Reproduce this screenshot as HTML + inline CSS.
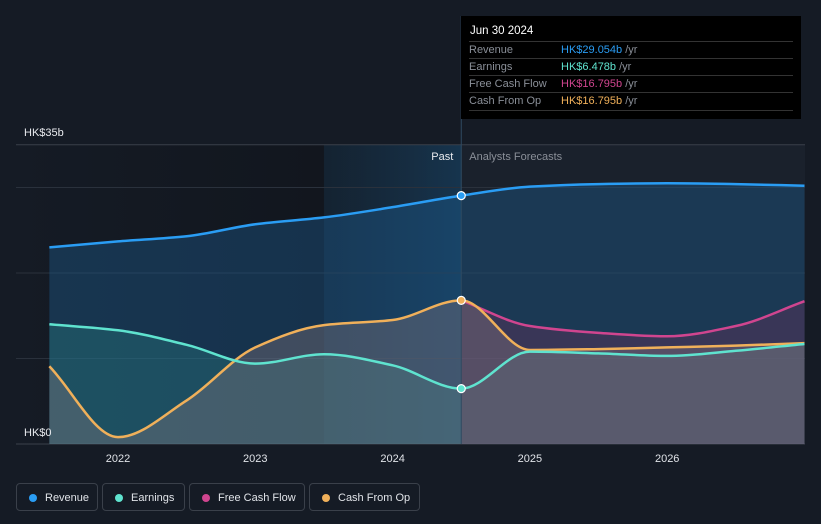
<!DOCTYPE html>
<html><head><meta charset="utf-8"><style>
body{margin:0;background:#151b25;font-family:"Liberation Sans",sans-serif;}
#wrap{position:relative;width:821px;height:524px;overflow:hidden;}
.tip{position:absolute;left:461px;top:16px;width:340px;height:103px;background:#000;color:#fff;font-size:11px;}
.tip .h{position:absolute;left:9px;top:9px;font-size:11.5px;}
.tip .r{position:absolute;left:8px;width:324px;border-top:1px solid #333;height:17px;line-height:17px;color:#8a8f98;}
.tip .r span{position:absolute;left:92px;}
.leg{position:absolute;top:483px;height:28px;border:1px solid #3a404a;border-radius:4px;color:#e0e3e8;font-size:11px;line-height:28px;box-sizing:border-box;}
.leg i{position:absolute;left:12px;top:10px;width:8px;height:8px;border-radius:50%;}
.leg b{font-weight:normal;position:absolute;left:28px;}
</style></head><body>
<div id="wrap">
<svg id="svg" width="821" height="524" style="position:absolute;left:0;top:0"></svg>
<div class="tip">
<div class="h">Jun 30 2024</div>
<div class="r" style="top:25px">Revenue<span style="color:#2a9df4">HK$29.054b <em style="font-style:normal;color:#8a8f98">/yr</em></span></div>
<div class="r" style="top:42px">Earnings<span style="color:#5fe3cf">HK$6.478b <em style="font-style:normal;color:#8a8f98">/yr</em></span></div>
<div class="r" style="top:59px">Free Cash Flow<span style="color:#d0458f">HK$16.795b <em style="font-style:normal;color:#8a8f98">/yr</em></span></div>
<div class="r" style="top:76px;border-bottom:1px solid #333">Cash From Op<span style="color:#f0b05a">HK$16.795b <em style="font-style:normal;color:#8a8f98">/yr</em></span></div>
</div>
<div class="leg" style="left:16px;width:82px"><i style="background:#2a9df4"></i><b>Revenue</b></div>
<div class="leg" style="left:102px;width:83px"><i style="background:#5fe3cf"></i><b>Earnings</b></div>
<div class="leg" style="left:189px;width:116px"><i style="background:#d0458f"></i><b>Free Cash Flow</b></div>
<div class="leg" style="left:309px;width:111px"><i style="background:#f0b05a"></i><b>Cash From Op</b></div>
</div>
<script>
const years=[2021.5,2022,2022.5,2023,2023.5,2024,2024.5,2025,2025.5,2026,2026.5,2027];
const revenue=[23.0,23.7,24.3,25.7,26.5,27.7,29.05,30.1,30.4,30.5,30.4,30.2];
const earnings=[14.0,13.3,11.6,9.4,10.5,9.2,6.48,10.8,10.6,10.3,10.9,11.7];
const cfo=[9.1,0.8,5.1,11.3,13.9,14.5,16.8,11.0,11.1,11.3,11.5,11.8];
const fcfYears=[2024.5,2025,2025.5,2026,2026.5,2027];
const fcf=[16.8,13.8,13.0,12.6,13.8,16.7];
const yTicks=[0,10,20,30,35];
const xTicks=[2022,2023,2024,2025,2026];
const pastEnd=2024.5;
const X=v=>118+(v-2022)*137.3;
const Y=v=>444-v*8.55;
const NS="http://www.w3.org/2000/svg";
const svg=document.getElementById('svg');
function el(t,a,p){const e=document.createElementNS(NS,t);for(const k in a)e.setAttribute(k,a[k]);(p||svg).appendChild(e);return e;}
function path(xs,ys){const p=xs.map((x,i)=>[X(x),Y(ys[i])]);const n=p.length;
const dx=[],s=[];for(let i=0;i<n-1;i++){dx.push(p[i+1][0]-p[i][0]);s.push((p[i+1][1]-p[i][1])/dx[i]);}
const m=[s[0]];for(let i=1;i<n-1;i++){m.push(s[i-1]*s[i]<=0?0:2/(1/s[i-1]+1/s[i]));}m.push(s[n-2]);
let d=`M${p[0][0]},${p[0][1]}`;
for(let i=0;i<n-1;i++){const h=dx[i]/3;d+=`C${p[i][0]+h},${p[i][1]+m[i]*h} ${p[i+1][0]-h},${p[i+1][1]-m[i+1]*h} ${p[i+1][0]},${p[i+1][1]}`;}return d;}
const defs=el('defs',{});
defs.innerHTML='<linearGradient id="pastbg" x1="0" x2="1"><stop offset="0" stop-color="#151b25"/><stop offset="1" stop-color="#10141b"/></linearGradient><linearGradient id="hl" x1="0" x2="1"><stop offset="0" stop-color="#1a3a55" stop-opacity="0.35"/><stop offset="1" stop-color="#1a4a70" stop-opacity="0.6"/></linearGradient>';
let r=el('rect',{x:X(2021.5)-32,y:145,width:X(pastEnd)-X(2021.5)+32,height:299,fill:'url(#pastbg)'});

r=el('rect',{x:X(pastEnd),y:145,width:805-X(pastEnd),height:299,fill:'#1a212c'});

r=el('rect',{x:X(2023.5),y:145,width:X(pastEnd)-X(2023.5),height:299,fill:'url(#hl)'});

yTicks.forEach(t=>{const l=el('line',{x1:16,x2:805,y1:Y(t),y2:Y(t),stroke:t==35||t==0?'#3a404a':'#2a313c','stroke-width':1});
});
function area(xs,ys,fill,op,name){const d=path(xs,ys)+`L${X(xs[xs.length-1])},444L${X(xs[0])},444Z`;const a=el('path',{d,fill,'fill-opacity':op});
}
area(years,revenue,'#1c5a8c',0.42,'revenue-area');
area(years,earnings,'#2a8a88',0.32,'earnings-area');
area(fcfYears,fcf,'#8a3060',0.28,'fcf-area');
area(years,cfo,'#8a7a80',0.36,'cfo-area');
function line(xs,ys,c,name){const l=el('path',{d:path(xs,ys),fill:'none',stroke:c,'stroke-width':2.5});
}
line(fcfYears,fcf,'#d0458f','fcf-line');
line(years,cfo,'#f0b05a','cfo-line');
line(years,earnings,'#5fe3cf','earnings-line');
line(years,revenue,'#2a9df4','revenue-line');
const v=el('line',{x1:X(pastEnd),x2:X(pastEnd),y1:16,y2:444,stroke:'#2e4a62','stroke-width':1});

const pi=years.indexOf(pastEnd);
[[revenue,'#2a9df4','revenue-marker'],[cfo,'#f0b05a','cfo-marker'],[earnings,'#5fe3cf','earnings-marker']].forEach(([s,c,n])=>{
const m=el('circle',{cx:X(pastEnd),cy:Y(s[pi]),r:4,fill:c,stroke:'#fff','stroke-width':1.2});
});
function txt(x,y,s,c,sz,anchor,name){const t=el('text',{x,y,fill:c,'font-size':sz,'text-anchor':anchor||'start','font-family':'Liberation Sans, sans-serif'});t.textContent=s;
}
txt(24,136,'HK$35b','#e8eaee',11,'start','y-label-top');
txt(24,436,'HK$0','#e8eaee',11,'start','y-label-zero');
xTicks.forEach(t=>txt(X(t),462,String(t),'#e0e3e8',11,'middle','x-tick-label'));
txt(X(pastEnd)-8,160,'Past','#e8eaee',11,'end','past-label');
txt(X(pastEnd)+8,160,'Analysts Forecasts','#8a8f98',11,'start','forecast-label');
</script>
</body></html>
